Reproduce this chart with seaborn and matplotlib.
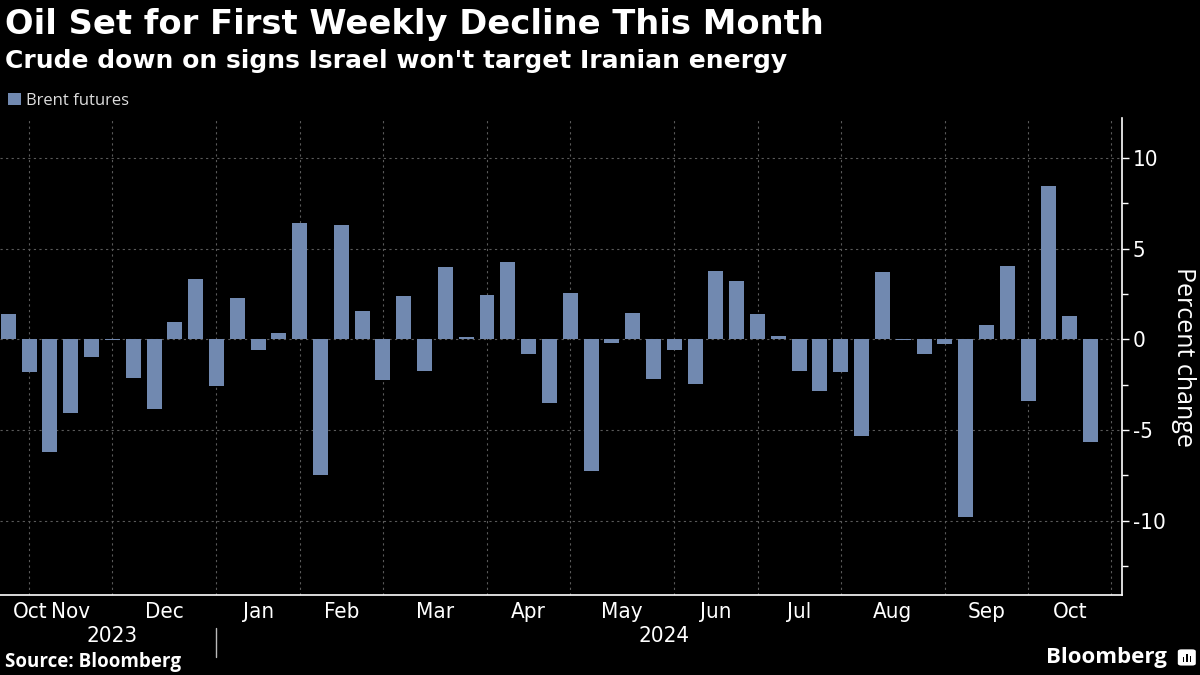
import numpy as np
import pandas as pd
import matplotlib
matplotlib.use("Agg")
import matplotlib.pyplot as plt
import matplotlib.ticker as mticker
from matplotlib.patches import Patch, FancyBboxPatch
import seaborn as sns

# --- data (weekly % change, Brent futures) ---
week_end_first = "2023-10-20"
pct_change = [1.40, -1.78, -6.19, -4.04, -0.95, -0.04, -2.11, -3.84, 0.95, 3.32,
              -2.57, 2.28, -0.59, 0.37, 6.41, -7.47, 6.30, 1.56, -2.24, 2.39,
              -1.73, 3.99, 0.13, 2.44, 4.26, -0.79, -3.49, 2.55, -7.29, -0.18,
              1.45, -2.17, -0.57, -2.44, 3.76, 3.21, 1.40, 0.18, -1.73, -2.83,
              -1.78, -5.31, 3.71, -0.03, -0.79, -0.24, -9.81, 0.79, 4.04, -3.38,
              8.45, 1.29, -5.64]
series_name = "Brent futures"
y_ticks = [-10, -5, 0, 5, 10]

BG = "black"
BAR = "#7189b0"
GRID = "#5a5a5a"
TXT = "white"
NARROW = dict(family="DejaVu Sans", stretch="condensed")

weeks = pd.date_range(week_end_first, periods=len(pct_change) + 1, freq="W-FRI")
df = pd.DataFrame({"week": weeks[:-1].strftime("%Y-%m-%d"), "change": pct_change})

sns.set_theme(style="dark")
plt.rcParams["font.family"] = ["Open Sans", "DejaVu Sans"]
plt.rcParams["axes.unicode_minus"] = False

fig = plt.figure(figsize=(12, 6.75), dpi=100, facecolor=BG)
ax = fig.add_axes([0.0, 0.1185, 0.9348, 0.7067])
ax.set_facecolor(BG)

sns.barplot(data=df, x="week", y="change", color=BAR, saturation=1,
            width=0.72, ax=ax, edgecolor="none", linewidth=0)

# month boundaries: last week of each month (tick sits on that bar)
tick_pos = [i for i in range(len(weeks) - 1) if weeks[i + 1].month != weeks[i].month]
if weeks[-1].month != (weeks[-1] + pd.Timedelta(days=7)).month:
    tick_pos.append(len(weeks) - 1)

x_left, x_right = -0.4, 53.5
ax.set_xlim(x_left, x_right)
ax.set_ylim(-14.1, 12.2)

ax.set_xticks(tick_pos)
ax.set_xticklabels([""] * len(tick_pos))

# month labels centred between boundaries
lab_pos, lab_txt = [], []
bounds = [x_left] + tick_pos
for a, b in zip(bounds[:-1], bounds[1:]):
    mid = (a + b) / 2
    if a == x_left:
        mid = max(mid, x_left + 1.45)
        lab_txt.append(weeks[0].strftime("%b"))
    else:
        lab_txt.append(weeks[int(a) + 1].strftime("%b"))
    lab_pos.append(mid)
ax.set_xticks(lab_pos, minor=True)
ax.set_xticklabels(lab_txt, minor=True, **NARROW)
ax.tick_params(axis="x", which="minor", length=0, pad=5, labelsize=16, colors=TXT)
ax.tick_params(axis="x", which="major", length=4, width=1, color=TXT, direction="out")

# year labels
years = weeks[:-1].year
for yr in sorted(set(years)):
    idx = np.where(years == yr)[0]
    ax.text((idx[0] + idx[-1]) / 2, -0.085, str(yr), transform=ax.get_xaxis_transform(),
            ha="center", va="center", color=TXT, fontsize=16, **NARROW)
sep = np.where(years != years[0])[0][0] - 1
ax.plot([sep, sep], [-0.07, -0.13], transform=ax.get_xaxis_transform(),
        color="#bbbbbb", lw=1, clip_on=False)

# y axis on the right
ax.yaxis.tick_right()
ax.yaxis.set_label_position("right")
ax.set_yticks(y_ticks)
ax.set_yticklabels([str(v) for v in y_ticks], **NARROW)
ax.yaxis.set_minor_locator(mticker.FixedLocator([-12.5, -7.5, -2.5, 2.5, 7.5]))
ax.tick_params(axis="y", which="major", length=5, width=1, color=TXT, labelsize=16,
               labelcolor=TXT, pad=3, right=True, left=False)
ax.tick_params(axis="y", which="minor", length=4, width=1, color=TXT, right=True, left=False)
ax.set_ylabel("Percent change", color=TXT, fontsize=18, rotation=270, labelpad=22)
ax.set_xlabel("")

ax.grid(True, which="major", color=GRID, linestyle=(0, (2, 3)), linewidth=0.8)
ax.set_axisbelow(True)
for s in ["left", "top"]:
    ax.spines[s].set_visible(False)
for s in ["right", "bottom"]:
    ax.spines[s].set_color(TXT)
    ax.spines[s].set_linewidth(1.2)

# legend
fig.legend(handles=[Patch(facecolor=BAR, edgecolor="none", label=series_name)],
           loc="upper left", bbox_to_anchor=(0.0, 0.875), frameon=False,
           handlelength=0.75, handleheight=0.75, handletextpad=0.3,
           fontsize=12, labelcolor="#dddddd", borderaxespad=0.2, borderpad=0.3)

# titles and footer
fig.text(0.004, 0.963, "Oil Set for First Weekly Decline This Month", color=TXT,
         fontsize=24.3, fontweight="bold", va="center", ha="left", family="DejaVu Sans")
fig.text(0.004, 0.909, "Crude down on signs Israel won't target Iranian energy", color=TXT,
         fontsize=18, fontweight="bold", va="center", ha="left", family="DejaVu Sans")
fig.text(0.004, 0.019, "Source: Bloomberg", color=TXT, fontsize=13.5, fontweight="bold",
         va="center", ha="left")
fig.text(0.972, 0.026, "Bloomberg", color=TXT, fontsize=16, fontweight="bold",
         va="center", ha="right")

# small logo mark next to the wordmark
fig.patches.append(FancyBboxPatch((0.9825, 0.0150), 0.013, 0.022,
                                  boxstyle="round,pad=0.001,rounding_size=0.003",
                                  transform=fig.transFigure, facecolor=TXT, edgecolor="none"))
for dx, h in [(0.0032, 0.007), (0.0060, 0.012), (0.0088, 0.009)]:
    fig.patches.append(FancyBboxPatch((0.9825 + dx, 0.0195), 0.0012, h,
                                      boxstyle="square,pad=0", transform=fig.transFigure,
                                      facecolor=BG, edgecolor="none"))

fig.savefig("out.png", dpi=100, facecolor=BG)
